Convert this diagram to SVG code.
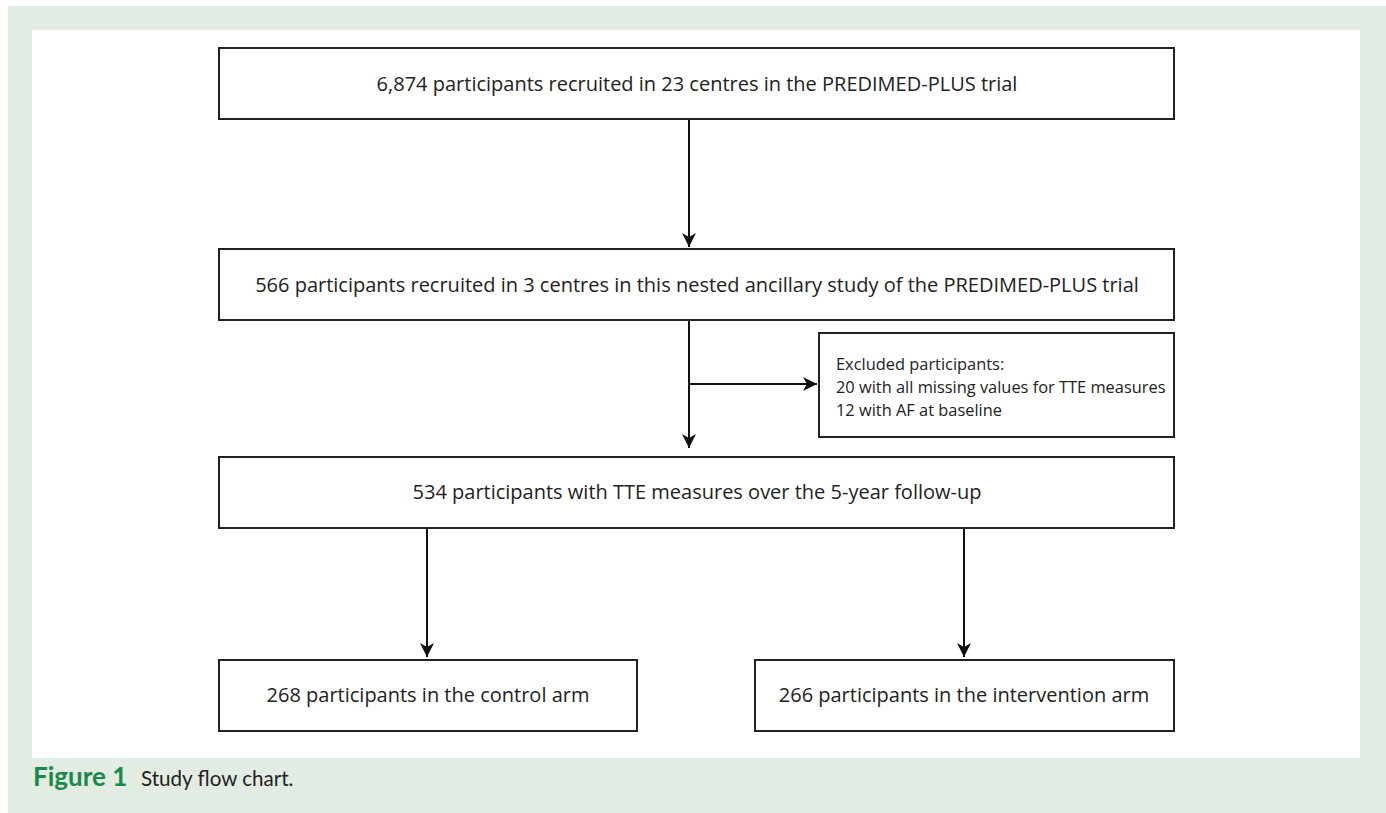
<svg xmlns="http://www.w3.org/2000/svg" width="1386" height="813" viewBox="0 0 1386 813">
<defs>
<marker id="ah" markerWidth="14" markerHeight="14" viewBox="0 0 14 14" refX="14" refY="7" orient="auto" markerUnits="userSpaceOnUse">
<path d="M0,0 L14,7 L0,14 L4,7 Z" fill="#111"/>
</marker>
</defs>
<style>
.box{fill:#fff;stroke:#222;stroke-width:2}
.t{font-family:"Open Sans","Liberation Sans",sans-serif;font-size:20px;fill:#222}
.s{font-family:"Open Sans","Liberation Sans",sans-serif;font-size:16.4px;fill:#222}
.c{stroke:#111;stroke-width:2;fill:none}
</style>
<rect x="0" y="0" width="1386" height="813" fill="#fff"/>
<rect x="8" y="6" width="1378" height="807" fill="#e2ece3"/>
<rect x="32" y="30" width="1328" height="728" fill="#fff"/>
<g id="connectors">
<path class="c" d="M689,120 V247" marker-end="url(#ah)"/>
<path class="c" d="M689,321 V448" marker-end="url(#ah)"/>
<path class="c" d="M689,384 H817" marker-end="url(#ah)"/>
<path class="c" d="M427,528 V657" marker-end="url(#ah)"/>
<path class="c" d="M964,528 V657" marker-end="url(#ah)"/>
</g>
<g id="n1"><rect class="box" x="219" y="48" width="955" height="71"/><text class="t" x="697" y="91" text-anchor="middle">6,874 participants recruited in 23 centres in the PREDIMED-PLUS trial</text></g>
<g id="n2"><rect class="box" x="219" y="249" width="955" height="71"/><text class="t" x="697" y="292" text-anchor="middle">566 participants recruited in 3 centres in this nested ancillary study of the PREDIMED-PLUS trial</text></g>
<g id="n3"><rect class="box" x="819" y="333" width="355" height="104"/><text class="s" x="836" y="370">Excluded participants:</text><text class="s" x="836" y="393">20 with all missing values for TTE measures</text><text class="s" x="836" y="416">12 with AF at baseline</text></g>
<g id="n4"><rect class="box" x="219" y="457" width="955" height="71"/><text class="t" x="697" y="499" text-anchor="middle">534 participants with TTE measures over the 5-year follow-up</text></g>
<g id="n5"><rect class="box" x="219" y="660" width="418" height="71"/><text class="t" x="428" y="702" text-anchor="middle">268 participants in the control arm</text></g>
<g id="n6"><rect class="box" x="755" y="660" width="419" height="71"/><text class="t" x="964" y="702" text-anchor="middle">266 participants in the intervention arm</text></g>
<text x="33" y="786" font-family="Lato,'Liberation Sans',sans-serif" font-size="26" font-weight="bold" fill="#1a8a4a">Figure 1</text>
<text x="141" y="786" font-family="Lato,'Liberation Sans',sans-serif" font-size="20.6" fill="#222">Study flow chart.</text>
</svg>
